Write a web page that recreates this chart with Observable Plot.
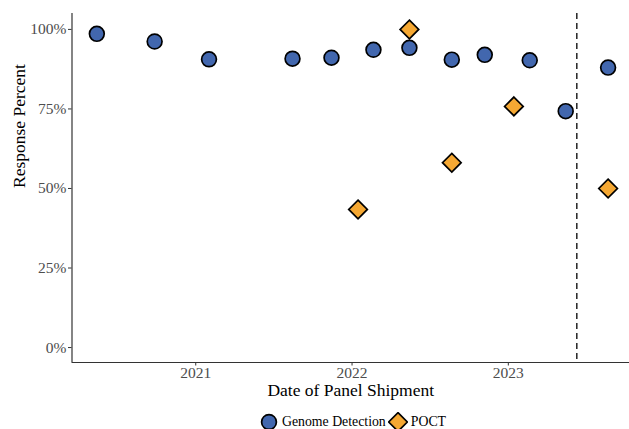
<!DOCTYPE html>
<html>
<head>
<meta charset="utf-8">
<script src="https://cdn.jsdelivr.net/npm/d3@7"></script>
<script src="https://cdn.jsdelivr.net/npm/@observablehq/plot@0.6"></script>
<style>
  html, body { margin: 0; padding: 0; background: #fff; }
  #chart { width: 629px; height: 429px; position: relative; overflow: hidden; }
  #legend {
    position: absolute; left: 0; width: 629px; top: 412px;
    display: flex; justify-content: center; align-items: center;
    font-family: "Liberation Serif", "DejaVu Serif", serif; font-size: 13.8px; line-height: 18px; color: #000;
    margin-left: 39px;
  }
  #legend .item { display: flex; align-items: center; }
  #legend svg { display: block; }
</style>
</head>
<body>
<div id="chart"></div>
<script>
// Series names
const seriesNames = ["Genome Detection", "POCT"];

// Genome Detection: shipment dates and response share
const genomeDates = ["2020-05-15", "2020-09-27", "2021-02-01", "2021-08-15", "2021-11-14", "2022-02-20",
                     "2022-05-15", "2022-08-22", "2022-11-07", "2023-02-20", "2023-05-15", "2023-08-22"];
const genomeValues = [0.986, 0.962, 0.906, 0.908, 0.911, 0.936, 0.942, 0.905, 0.920, 0.903, 0.743, 0.880];

// POCT: shipment dates and response share
const poctDates = ["2022-01-15", "2022-05-15", "2022-08-22", "2023-01-14", "2023-08-22"];
const poctValues = [0.434, 1.0, 0.581, 0.758, 0.50];

// Reference date (dashed vertical line)
const cutoffDate = ["2023-06-10"];

// Axis ticks
const yTicks = [0, 0.25, 0.5, 0.75, 1];
const xTicks = ["2021-01-01", "2022-01-01", "2023-01-01"];
const xTickLabels = ["2021", "2022", "2023"];

const xLabel = "Date of Panel Shipment";
const yLabel = "Response Percent";

const colors = {"Genome Detection": "#4267ae", "POCT": "#f5a833"};
const symbols = {"Genome Detection": "circle", "POCT": "diamond2"};
const sizes = {"Genome Detection": 7.4, "POCT": 8.4};

const parse = d3.utcParse("%Y-%m-%d");
const genomeRows = genomeDates.map((d, i) => ({date: parse(d), value: genomeValues[i]}));
const poctRows = poctDates.map((d, i) => ({date: parse(d), value: poctValues[i]}));
const tickDates = xTicks.map(parse);
const xDomain = [parse("2020-03-18"), parse("2023-10-11")];
const yDomain = [-0.047, 1.05];

const seriesDots = (rows, name) => Plot.dot(rows, {
  x: "date", y: "value",
  fill: colors[name], symbol: symbols[name], r: sizes[name],
  stroke: "#000", strokeWidth: 1.7
});

const chart = Plot.plot({
  width: 629,
  height: 400,
  marginLeft: 71.5,
  marginRight: 0,
  marginTop: 13,
  marginBottom: 38,
  style: {fontFamily: "'Liberation Serif', 'DejaVu Serif', serif", fontSize: "15.5px", background: "#fff", overflow: "visible"},
  x: {type: "utc", domain: xDomain},
  y: {domain: yDomain},
  marks: [
    Plot.axisX({ticks: tickDates, tickFormat: (d, i) => xTickLabels[i], tickSize: 3.5, tickPadding: 1,
                stroke: "#333", fill: "#4d4d4d", label: null}),
    Plot.axisY({ticks: yTicks, tickFormat: d3.format(".0%"), tickSize: 3.5, tickPadding: 2,
                stroke: "#333", fill: "#4d4d4d", label: null}),
    Plot.ruleX([xDomain[0]], {stroke: "#333", strokeWidth: 1.2}),
    Plot.ruleY([yDomain[0]], {stroke: "#333", strokeWidth: 1.2}),
    Plot.ruleX(cutoffDate.map(parse), {stroke: "#000", strokeWidth: 1.3, strokeDasharray: "6,4"}),
    seriesDots(genomeRows, seriesNames[0]),
    seriesDots(poctRows, seriesNames[1]),
    Plot.text([xLabel], {frameAnchor: "bottom", dy: 33, text: d => d, fontSize: 17.5, fill: "#000"}),
    Plot.text([yLabel], {frameAnchor: "left", dx: -53, rotate: -90, text: d => d, fontSize: 17.5, fill: "#000"})
  ]
});

document.getElementById("chart").appendChild(chart);

// Legend built from the series names
const legend = document.createElement("div");
legend.id = "legend";
seriesNames.forEach(name => {
  const item = document.createElement("div");
  item.className = "item";
  const sw = d3.create("svg").attr("width", 20).attr("height", 20);
  const area = Math.PI * sizes[name] * sizes[name];
  const sym = symbols[name] === "circle" ? d3.symbolCircle : d3.symbolDiamond2;
  sw.append("path")
    .attr("transform", "translate(10,10)")
    .attr("d", d3.symbol(sym, area)())
    .attr("fill", colors[name]).attr("stroke", "#000").attr("stroke-width", 1.7);
  item.appendChild(sw.node());
  const label = document.createElement("span");
  label.textContent = name;
  label.style.margin = "0 2px 0 3px";
  item.appendChild(label);
  legend.appendChild(item);
});
document.getElementById("chart").appendChild(legend);
</script>
</body>
</html>
